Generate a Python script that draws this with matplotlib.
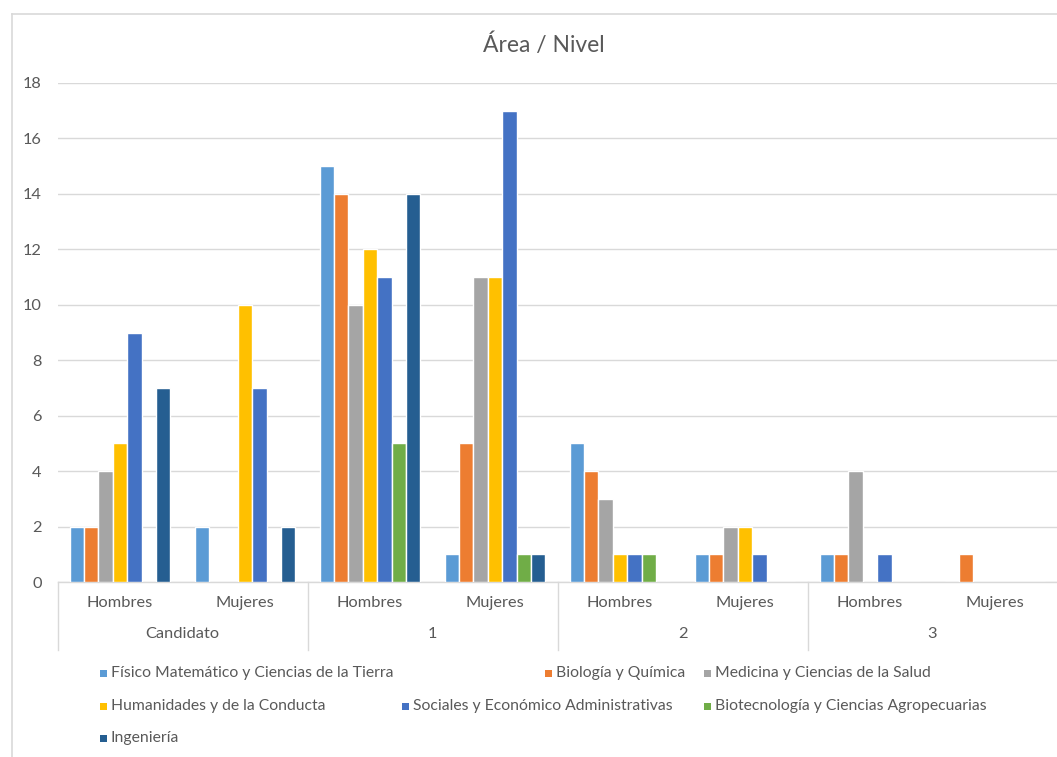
import matplotlib
matplotlib.use("Agg")
import matplotlib.pyplot as plt
import matplotlib.transforms as mtransforms
from matplotlib.lines import Line2D
from matplotlib.patches import Rectangle
import numpy as np

plt.rcParams['font.family'] = ['Lato', 'DejaVu Sans']

# ---- data ----
subcats = ["Hombres", "Mujeres", "Hombres", "Mujeres", "Hombres", "Mujeres", "Hombres", "Mujeres"]
groups = ["Candidato", "1", "2", "3"]
series_names = [
    "Físico Matemático y Ciencias de la Tierra",
    "Biología y Química",
    "Medicina y Ciencias de la Salud",
    "Humanidades y de la Conducta",
    "Sociales y Económico Administrativas",
    "Biotecnología y Ciencias Agropecuarias",
    "Ingeniería",
]
fisico      = [2, 2, 15, 1, 5, 1, 1, 0]
biologia    = [2, 0, 14, 5, 4, 1, 1, 1]
medicina    = [4, 0, 10, 11, 3, 2, 4, 0]
humanidades = [5, 10, 12, 11, 1, 2, 0, 0]
sociales    = [9, 7, 11, 17, 1, 1, 1, 0]
biotec      = [0, 0, 5, 1, 1, 0, 0, 0]
ingenieria  = [7, 2, 14, 1, 0, 0, 0, 0]
series_values = [fisico, biologia, medicina, humanidades, sociales, biotec, ingenieria]
colors = ["#5B9BD5", "#ED7D31", "#A5A5A5", "#FFC000", "#4472C4", "#70AD47", "#255E91"]
yticks = [0, 2, 4, 6, 8, 10, 12, 14, 16, 18]

W, H = 1057, 757
fig = plt.figure(figsize=(W / 100, H / 100), dpi=100)
txtc = "#595959"
gridc = "#D9D9D9"
fs = 11.8

ax_left, ax_right, ax_top, ax_bot = 57.5, 1057.5, 83, 582
ax = fig.add_axes([ax_left / W, 1 - ax_bot / H, (ax_right - ax_left) / W, (ax_bot - ax_top) / H])

n = len(series_values)
x = np.arange(len(subcats))
bw = 0.115
for i, (vals, c) in enumerate(zip(series_values, colors)):
    offs = (i - (n - 1) / 2) * bw
    ax.bar(x + offs, vals, width=bw, color=c, edgecolor="white", linewidth=1.0, zorder=3)

ax.set_xlim(-0.5, len(subcats) - 0.5)
ax.set_ylim(0, 18)
ax.set_yticks(yticks)
ax.set_yticklabels([str(v) for v in yticks], color=txtc, fontsize=fs)
ax.tick_params(axis='y', length=0, pad=11.5)
ax.set_xticks([])
ax.yaxis.grid(True, color=gridc, linewidth=1.0, zorder=0)
ax.set_axisbelow(True)
for s in ["left", "right", "top"]:
    ax.spines[s].set_visible(False)
ax.spines["bottom"].set_color(gridc)
ax.spines["bottom"].set_linewidth(1.0)

ph = ax_bot - ax_top
trans = mtransforms.blended_transform_factory(ax.transData, ax.transAxes)
for xi, lab in zip(x, subcats):
    ax.text(xi, -(603 - ax_bot) / ph, lab, transform=trans, ha="center", va="center",
            color=txtc, fontsize=fs)
for gi, g in enumerate(groups):
    ax.text(gi * 2 + 0.5, -(634 - ax_bot) / ph, g, transform=trans, ha="center", va="center",
            color=txtc, fontsize=fs)
for bx in np.arange(-0.5, len(subcats), 2):
    ax.add_line(Line2D([bx, bx], [0, -(650 - ax_bot) / ph], transform=trans, color=gridc,
                       linewidth=1.0, clip_on=False))

# title
fig.text(544 / W, 1 - 45 / H, "Área / Nivel", ha="center", va="center", color=txtc, fontsize=16.5)

# chart border (left & top visible)
fig.add_artist(Line2D([12 / W, 12 / W], [0, 1 - 14 / H], transform=fig.transFigure, color=gridc, linewidth=1.2))
fig.add_artist(Line2D([12 / W, 1], [1 - 14 / H, 1 - 14 / H], transform=fig.transFigure, color=gridc, linewidth=1.2))

# legend (manual layout like Excel)
leg_pos = [(103, 673), (548, 673), (707, 673), (103, 706), (405, 706), (707, 706), (103, 738)]
for (px, py), name, c in zip(leg_pos, series_names, colors):
    fig.add_artist(Rectangle(((px - 3.5) / W, 1 - (py + 3.5) / H), 7 / W, 7 / H,
                             transform=fig.transFigure, facecolor=c, edgecolor="none"))
    fig.text((px + 8) / W, 1 - py / H, name, ha="left", va="center", color=txtc, fontsize=11.3)

fig.savefig("out.png", dpi=100)
